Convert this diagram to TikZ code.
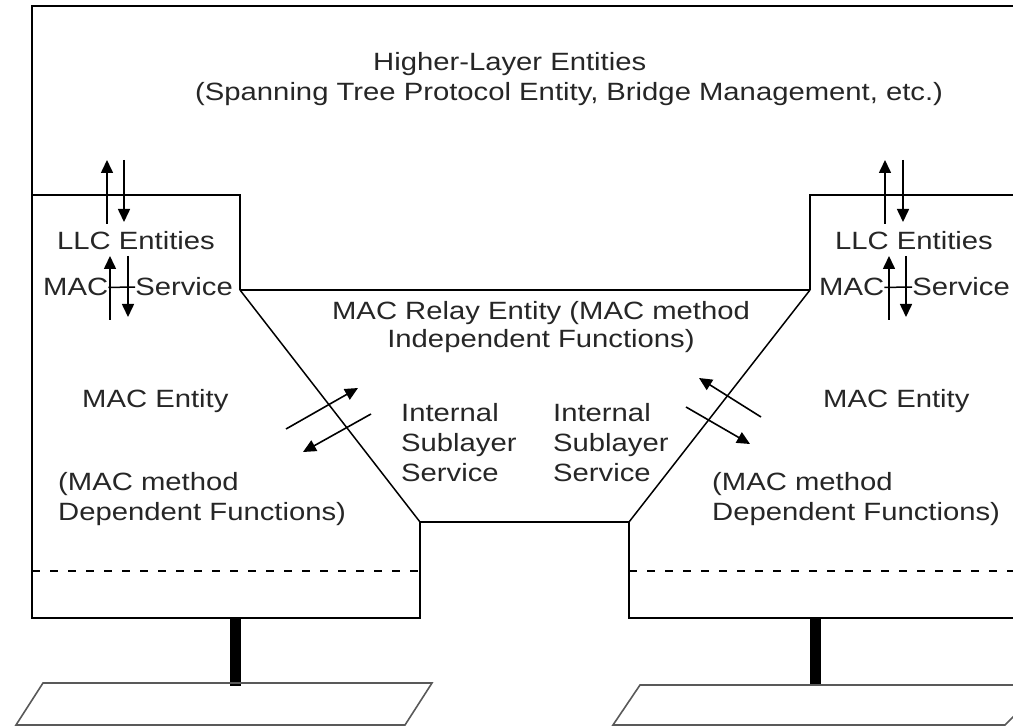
\documentclass[tikz,border=0pt]{standalone}
\usepackage{fontspec}
\setmainfont{Liberation Sans}[FakeStretch=1.17]
\usepackage{tikz}
\usetikzlibrary{arrows.meta,positioning}
\tikzset{
  boxline/.style={draw=black, line width=1.9pt},
  trapline/.style={draw=black, line width=1.5pt},
  sepline/.style={draw=black, line width=1.2pt, dash pattern=on 8pt off 10pt},
  flow/.style={draw, line width=1.6pt, -{Triangle[length=13pt,width=12pt]}},
  lbl/.style={
    inner sep=0pt,
    font=\fontsize{25}{30}\selectfont,
    text=black!85,
    anchor=base west},
  groundplate/.style={draw=black!65, line width=1.6pt},
}
\begin{document}
\begin{tikzpicture}[x=1pt,y=-1pt]
  \useasboundingbox (0,0) rectangle (1013,727);
  \clip (0,0) rectangle (1013,727);
  % outlines
  \draw[boxline] (1013,6) -- (32,6) -- (32,618) -- (420,618) -- (420,522)
    -- (629,522) -- (629,618) -- (1013,618);
  \draw[boxline] (32,195) -- (240,195) -- (240,290);
  \draw[boxline] (1013,195) -- (810,195) -- (810,290);
  \draw[trapline] (240,290) -- (810,290);
  \draw[trapline] (240,290) -- (420,522);
  \draw[trapline] (810,290) -- (629,522);
  \draw[sepline] (32,571) -- (420,571);
  \draw[sepline] (629,571) -- (1013,571);
  % lines to the media
  \fill (230,618) rectangle (241,686);
  \fill (810,618) rectangle (821,686);
  \draw[groundplate] (43,683) -- (432,683) -- (405,725) -- (16,725) -- cycle;
  \draw[groundplate] (640,685) -- (1045,685) -- (1005,725) -- (613,725) -- cycle;

  \node[lbl] (higher) at (373,71) {Higher-Layer Entities};
  \node[lbl] (spanning) at (195,101)
    {(Spanning Tree Protocol Entity, Bridge Management, etc.)};
  \node[lbl] (llcL) at (57,250) {LLC Entities};
  \node[lbl] (macL) at (43,296) {MAC};
  \node[lbl, anchor=base east] (servL) at (233,296) {Service};
  \node[lbl] (llcR) at (835,250) {LLC Entities};
  \node[lbl] (macR) at (819,296) {MAC};
  \node[lbl, anchor=base east] (servR) at (1010,296) {Service};
  \node[lbl] (entL) at (82,408) {MAC Entity};
  \node[lbl] (entR) at (823,408) {MAC Entity};
  % base of a multi-line label is its last line
  \node[lbl, align=left] (depL) at (58,520) {(MAC method\\Dependent Functions)};
  \node[lbl, align=left] (depR) at (712,520) {(MAC method\\Dependent Functions)};
  \node[lbl, align=center, anchor=base,
    font=\fontsize{25}{28.5}\selectfont] (relay) at (541,348)
    {MAC Relay Entity (MAC method\\Independent Functions)};
  \node[lbl, align=left] (issL) at (401,482) {Internal\\Sublayer\\Service};
  \node[lbl, align=left] (issR) at (553,482) {Internal\\Sublayer\\Service};

  \draw[line width=1.5pt] (macL.east) -- (servL.west);
  \draw[line width=1.5pt] (macR.east) -- (servR.west);

  % service primitives, left bridge port
  \coordinate (hlL1) at (107,224); \coordinate (hlL2) at (107,160);
  \coordinate (hlL3) at (124,160); \coordinate (hlL4) at (124,222);
  \coordinate (msL1) at (110,320); \coordinate (msL2) at (110,256);
  \coordinate (msL3) at (128,256); \coordinate (msL4) at (128,317);
  \coordinate (isL1) at (286,429); \coordinate (isL2) at (358,388);
  \coordinate (isL3) at (371,414); \coordinate (isL4) at (303,452);
  % right bridge port
  \coordinate (hlR1) at (885,224); \coordinate (hlR2) at (885,160);
  \coordinate (hlR3) at (903,160); \coordinate (hlR4) at (903,222);
  \coordinate (msR1) at (889,320); \coordinate (msR2) at (889,256);
  \coordinate (msR3) at (906,256); \coordinate (msR4) at (906,317);
  \coordinate (isR1) at (761,417); \coordinate (isR2) at (699,378);
  \coordinate (isR3) at (686,407); \coordinate (isR4) at (750,444);

  \foreach \p in {hlL,msL,isL,hlR,msR,isR}{
    \draw[flow] (\p1) -- (\p2);
    \draw[flow] (\p3) -- (\p4);
  }
\end{tikzpicture}
\end{document}
